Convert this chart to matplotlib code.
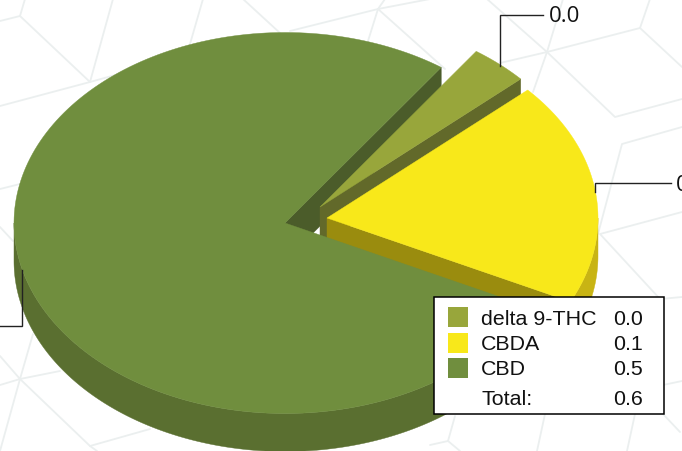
import numpy as np
import matplotlib
matplotlib.use("Agg")
import matplotlib.pyplot as plt
from matplotlib.patches import Polygon, Rectangle

categories = ["delta 9-THC", "CBDA", "CBD"]
values = [0.021, 0.114, 0.466]
top_colors = ["#98a63b", "#f8e81a", "#708e3e"]
side_colors = ["#62692a", "#c8b414", "#5a6f30"]
wall_colors = ["#62692a", "#9a8c0e", "#4b5c2a"]
total_label = "Total:"
callout_labels = ["0.0", "0.1"]

START = 54.8
RX, RY, DEPTH = 271, 190.5, 38
centers = {"delta 9-THC": (320, 208), "CBDA": (327, 219), "CBD": (285, 224)}

fig = plt.figure(figsize=(6.82, 4.52), dpi=100, facecolor="white")
ax = fig.add_axes([0, 0, 1, 1])
ax.set_xlim(0, 682)
ax.set_ylim(452, 0)
ax.axis("off")

# faint watermark pattern behind the chart
bg_paths = [
    [(0, 22), (20, 17), (25, 0)], [(20, 17), (90, 83), (113, 0)], [(0, 107), (90, 83), (130, 72)],
    [(190, 45), (203, 0)], [(243, 0), (280, 34)], [(290, 32), (378, 10), (430, 0)],
    [(378, 10), (385, 0)], [(378, 10), (368, 42)], [(378, 10), (445, 70)],
    [(487, 0), (547, 53), (640, 29), (650, 0)], [(640, 29), (682, 68)], [(500, 64), (547, 53), (557, 20), (563, 0)],
    [(547, 53), (533, 93)], [(547, 53), (615, 118), (682, 100)],
    [(682, 128), (622, 145), (598, 235)], [(682, 213), (600, 235), (660, 300), (682, 298)],
    [(682, 382), (663, 386)], [(663, 415), (680, 433)], [(635, 415), (627, 452)], [(545, 415), (537, 452)],
    [(455, 417), (448, 442), (430, 446)], [(448, 442), (460, 452)],
    [(0, 190), (20, 185)], [(0, 228), (13, 242)], [(0, 357), (20, 380), (0, 386)], [(20, 380), (0, 452)],
    [(20, 380), (33, 335)], [(20, 380), (60, 372)], [(20, 380), (90, 447), (150, 430)], [(90, 447), (97, 452)],
]
for path in bg_paths:
    xs, ys = zip(*path)
    ax.plot(xs, ys, color="#ebefef", lw=1.3, zorder=0, solid_capstyle="round")


def pt(c, deg, dz=0):
    t = np.radians(deg)
    return c[0] + RX * np.cos(t), c[1] - RY * np.sin(t) + dz


def arc(c, a, b, dz=0, n=200):
    t = np.radians(np.linspace(a, b, n))
    return np.column_stack([c[0] + RX * np.cos(t), c[1] - RY * np.sin(t) + dz])


# slice angles come from the values, clockwise from START
total = sum(values)
spans = {}
a = START
for name, v in zip(categories, values):
    b = a - v / total * 360
    spans[name] = (a, b)
    a = b


def wall(name, deg, color, z):
    c = centers[name]
    ax.add_patch(Polygon([c, pt(c, deg), pt(c, deg, DEPTH), (c[0], c[1] + DEPTH)],
                         fc=color, ec=color, lw=0.3, zorder=z))


def top(name, color, z):
    c = centers[name]
    a, b = spans[name]
    ax.add_patch(Polygon(np.vstack([[c], arc(c, a, b)]), fc=color, ec=color, lw=0.3, zorder=z))


def side(name, a, b, color, z):
    c = centers[name]
    ax.add_patch(Polygon(np.vstack([arc(c, a, b), arc(c, b, a, DEPTH)]), fc=color, ec=color, lw=0.3, zorder=z))


# CBD back wall and rim
wall("CBD", spans["CBD"][1] + 360, wall_colors[2], 1)
side("CBD", -180, spans["CBD"][0], side_colors[2], 1)

# delta 9-THC
wall("delta 9-THC", spans["delta 9-THC"][1], wall_colors[0], 2)
top("delta 9-THC", top_colors[0], 3)

# CBDA
wall("CBDA", spans["CBDA"][1], wall_colors[1], 4)
side("CBDA", 0, spans["CBDA"][1], side_colors[1], 4)
top("CBDA", top_colors[1], 5)

# CBD top face
top("CBD", top_colors[2], 6)

# callouts
lead = dict(color="#222222", lw=1.0, zorder=7, solid_joinstyle="miter")
ax.plot([500, 500, 543], [67, 15.5, 15.5], **lead)
ax.plot([595, 595, 671], [193, 184, 184], **lead)
ax.plot([22, 22, 0], [271, 326.5, 326.5], **lead)
call_font = dict(family="Open Sans", fontsize=16, color="#111111", va="center", zorder=7)
ax.text(549, 17, callout_labels[0], **call_font)
ax.text(676, 186, callout_labels[1], clip_on=True, **call_font)

# legend box
ax.add_patch(Rectangle((433.5, 297.5), 230, 117, fc="white", ec="black", lw=1.1, zorder=8))
rows_y = [318, 344, 369]
text_y = [319.5, 344.5, 370]
leg_font = dict(family="Liberation Sans", fontsize=15.4, color="#111111", va="center", zorder=9)
for name, col, v, y, ty in zip(categories, top_colors, values, rows_y, text_y):
    ax.add_patch(Rectangle((448, y - 10), 20, 20, fc=col, ec="none", zorder=9))
    ax.text(481, ty, name, **leg_font)
    ax.text(613.5, ty, f"{v:.1f}", **leg_font)
ax.text(481, 399.5, total_label, **leg_font)
ax.text(613.5, 399.5, f"{total:.1f}", **leg_font)

fig.savefig("out.png", dpi=100, facecolor="white")
